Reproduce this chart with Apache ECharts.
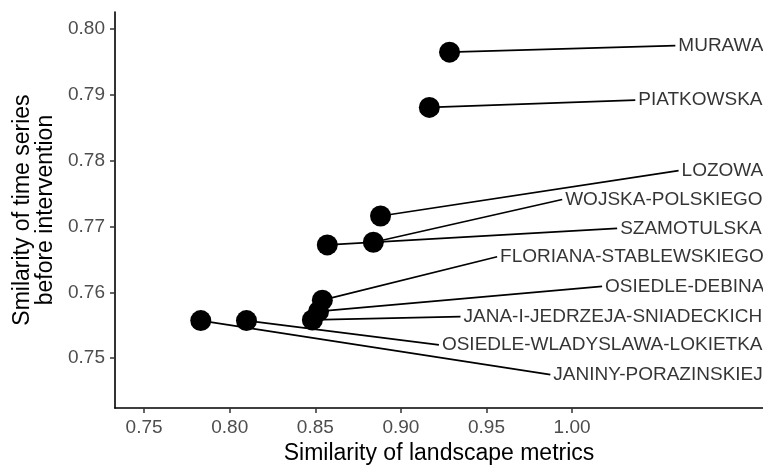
<!DOCTYPE html>
<html>
<head>
<meta charset="utf-8">
<script src="https://cdn.jsdelivr.net/npm/echarts@6/dist/echarts.min.js"></script>
<style>html,body{margin:0;padding:0;background:#fff}#c{width:763px;height:470px}</style>
</head>
<body>
<div id="c"></div>
<script>
const names = ['MURAWA','PIATKOWSKA','LOZOWA','WOJSKA-POLSKIEGO','SZAMOTULSKA','FLORIANA-STABLEWSKIEGO','OSIEDLE-DEBINA','JANA-I-JEDRZEJA-SNIADECKICH','OSIEDLE-WLADYSLAWA-LOKIETKA','JANINY-PORAZINSKIEJ'];
const landscape = [0.9284,0.9166,0.8881,0.8839,0.8570,0.8541,0.8519,0.8483,0.8098,0.7831];
const timeseries = [0.7965,0.7881,0.7716,0.7676,0.7672,0.7588,0.7571,0.7558,0.7557,0.7557];
const labelX = [1.0603,1.0369,1.0622,0.9942,1.0263,0.9562,1.0175,0.9348,0.9222,0.9873];
const labelY = [0.7975,0.7892,0.7785,0.7741,0.7697,0.7654,0.7609,0.7563,0.7520,0.7475];
const xTicks = [0.75,0.80,0.85,0.90,0.95,1.00];
const yTicks = [0.75,0.76,0.77,0.78,0.79,0.80];

const FONT = 'Liberation Sans, Arial, sans-serif';
const chart = echarts.init(document.getElementById('c'), null, {renderer:'canvas'});

const segs = names.map((n,i)=>({coords:[[landscape[i],timeseries[i]],[labelX[i],labelY[i]]]}));
const pts = names.map((n,i)=>({name:n, value:[landscape[i],timeseries[i]]}));
const anchors = names.map((n,i)=>({name:n, value:[labelX[i],labelY[i]]}));

chart.setOption({
  animation:false,
  backgroundColor:'#ffffff',
  grid:{left:115, right:0, top:12, bottom:58, containLabel:false},
  xAxis:{
    type:'value', min:0.733, max:1.1115,
    name:'Similarity of landscape metrics', nameLocation:'middle', nameGap:31,
    nameTextStyle:{color:'#000', fontSize:23, fontFamily:FONT},
    axisLine:{show:true, lineStyle:{color:'#000', width:1.6}},
    axisTick:{show:true, length:5, lineStyle:{color:'#333', width:1.5}, customValues:xTicks},
    axisLabel:{color:'#4d4d4d', fontSize:19, fontFamily:FONT, margin:10, customValues:xTicks,
      formatter:v=>v.toFixed(2)},
    splitLine:{show:false}
  },
  yAxis:{
    type:'value', min:0.7424, max:0.8026,
    name:'Smilarity of time series\nbefore intervention', nameLocation:'middle', nameGap:55, nameRotate:90,
    nameTextStyle:{color:'#000', fontSize:23, fontFamily:FONT, lineHeight:23, align:'center'},
    axisLine:{show:true, lineStyle:{color:'#000', width:1.6}},
    axisTick:{show:true, length:5, lineStyle:{color:'#333', width:1.5}, customValues:yTicks},
    axisLabel:{color:'#4d4d4d', fontSize:19, fontFamily:FONT, margin:10, customValues:yTicks,
      formatter:v=>v.toFixed(2)},
    splitLine:{show:false}
  },
  series:[
    {type:'lines', coordinateSystem:'cartesian2d', data:segs, silent:true,
      lineStyle:{color:'#000', width:1.7, opacity:1}, z:2},
    {type:'scatter', data:pts, symbol:'circle', symbolSize:21, itemStyle:{color:'#000', opacity:1}, z:3, silent:true},
    {type:'scatter', data:anchors, symbolSize:0, z:4, silent:true,
      label:{show:true, position:'right', distance:3, formatter:p=>p.name, color:'#000', fontSize:19, fontFamily:FONT}}
  ]
});
</script>
</body>
</html>
